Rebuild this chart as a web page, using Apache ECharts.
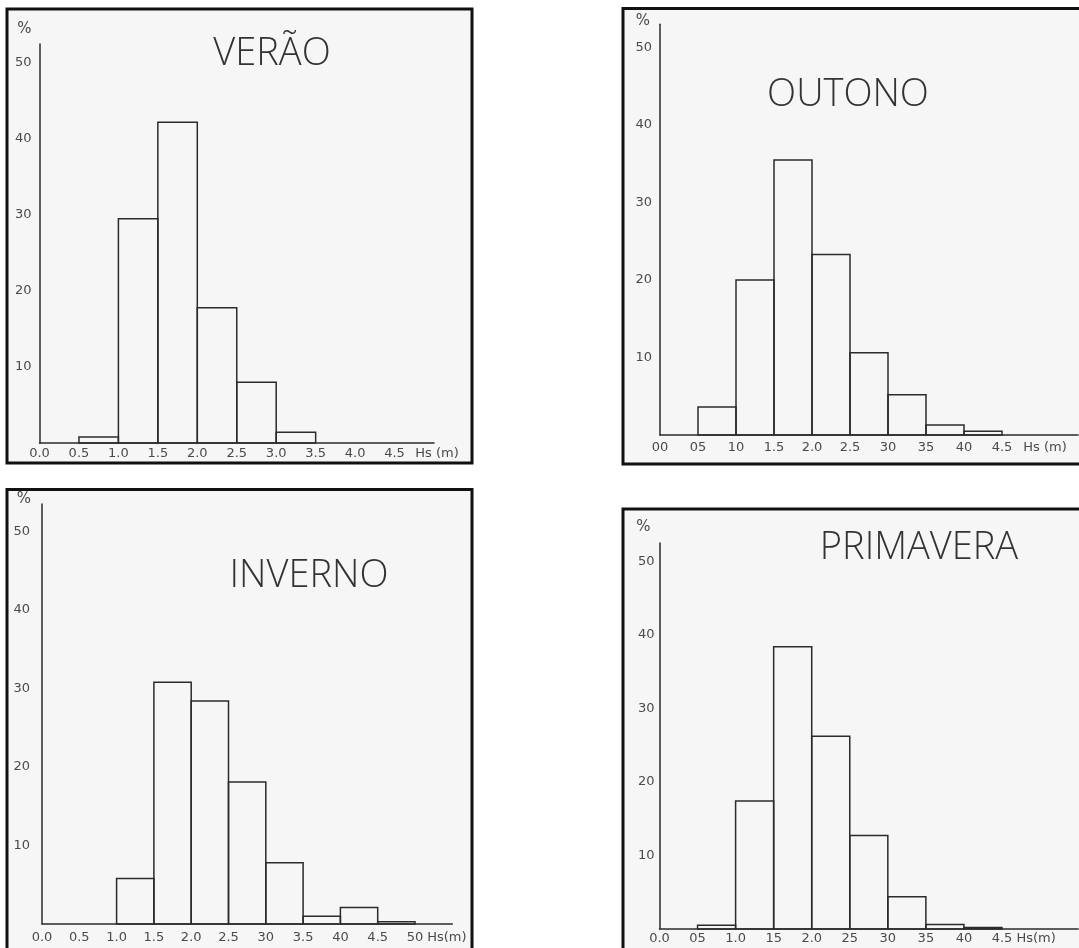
<!DOCTYPE html>
<html>
<head>
<meta charset="utf-8">
<script src="https://cdn.jsdelivr.net/npm/echarts@6/dist/echarts.min.js"></script>
<style>
html,body{margin:0;padding:0;background:#ffffff;}
#chart{width:1079px;height:948px;}
</style>
</head>
<body>
<div id="chart"></div>
<script>
// Bin edges of the Hs (m) classes (0.5 m wide)
const binEdges = [0.0, 0.5, 1.0, 1.5, 2.0, 2.5, 3.0, 3.5, 4.0, 4.5, 5.0];

// Frequency (%) per class
const veraoValues     = [0, 0.8, 29.5, 42.2, 17.8, 8.0, 1.4, 0, 0, 0];
const outonoValues    = [0, 3.6, 20.0, 35.5, 23.3, 10.6, 5.2, 1.3, 0.5, 0];
const invernoValues   = [0, 0, 5.8, 30.8, 28.4, 18.1, 7.8, 1.0, 2.1, 0.3];
const primaveraValues = [0, 0.5, 17.4, 38.4, 26.2, 12.7, 4.4, 0.6, 0.2, 0];

// Panel titles
const panelTitles = ['VERÃO', 'OUTONO', 'INVERNO', 'PRIMAVERA'];

// Tick labels as lettered on each panel
const veraoTicks     = ['0.0', '0.5', '1.0', '1.5', '2.0', '2.5', '3.0', '3.5', '4.0', '4.5'];
const outonoTicks    = ['00', '05', '10', '1.5', '2.0', '2.5', '30', '35', '40', '4.5'];
const invernoTicks   = ['0.0', '0.5', '1.0', '1.5', '2.0', '2.5', '30', '3.5', '40', '4.5', '50'];
const primaveraTicks = ['0.0', '05', '1.0', '15', '2.0', '25', '30', '35', '40', '4.5'];
const yTicks = ['10', '20', '30', '40', '50'];
const xName = ['Hs (m)', 'Hs (m)', 'Hs(m)', 'Hs(m)'];
const yName = '%';

const allValues = [veraoValues, outonoValues, invernoValues, primaveraValues];
const allTicks = [veraoTicks, outonoTicks, invernoTicks, primaveraTicks];

// Layout (pixels) per panel
const layout = [
  {grid:{left:39.5, top:44, width:394.5, height:399}, xMax:5.0, yMax:52.5,
   frame:{x:7, y:9, w:465, h:454}, title:[267, 30],
   xMargin:4, xNameGap:3, yMargin:8, pctGap:7, pctPad:8},
  {grid:{left:660, top:24.25, width:418, height:410.75}, xMax:5.5, yMax:53,
   frame:{x:623, y:8.5, w:460, h:455.5}, title:[843, 71],
   xMargin:6, xNameGap:-33, yMargin:8, pctGap:-4, pctPad:10},
  {grid:{left:42, top:504, width:410.3, height:420}, xMax:5.5, yMax:53.5,
   frame:{x:7, y:489.5, w:465, h:465}, title:[304, 552],
   xMargin:7, xNameGap:-6, yMargin:12, pctGap:-3, pctPad:11},
  {grid:{left:659.5, top:543, width:418.6, height:386}, xMax:5.5, yMax:52.5,
   frame:{x:623, y:509, w:460, h:445}, title:[914, 524],
   xMargin:3, xNameGap:-42, yMargin:5, pctGap:8, pctPad:9}
];

const FONT = "'DejaVu Sans', 'Liberation Sans', sans-serif";
const TITLE_FONT = "'Open Sans', 'DejaVu Sans', sans-serif";
const LBL = '#4a4a4a';
const INK = '#2b2b2b';

const grids = [], xAxes = [], yAxes = [], series = [], titles = [], graphics = [];

layout.forEach((L, i) => {
  grids.push(Object.assign({outerBoundsMode:'none', containLabel:false}, L.grid));
  const ticks = allTicks[i];
  xAxes.push({
    type:'value', gridIndex:i, min:0, max:L.xMax, interval:0.5,
    splitLine:{show:false}, axisTick:{show:false},
    axisLine:{show:true, onZero:false, lineStyle:{color:INK, width:1.5}},
    axisLabel:{show:true, margin:L.xMargin, color:LBL, fontFamily:FONT, fontSize:13,
      showMaxLabel:true, showMinLabel:true, hideOverlap:false,
      formatter:(v) => { const k = Math.round(v / 0.5); return (Math.abs(k*0.5 - v) < 1e-6 && ticks[k] !== undefined) ? ticks[k] : ''; }},
    name:xName[i], nameLocation:'end', nameGap:L.xNameGap,
    nameTextStyle:{color:LBL, fontFamily:FONT, fontSize:13, align:'center', verticalAlign:'top', padding:[L.xMargin,0,0,0]}
  });
  yAxes.push({
    type:'value', gridIndex:i, min:0, max:L.yMax, interval:10,
    splitLine:{show:false}, axisTick:{show:false},
    axisLine:{show:true, onZero:false, lineStyle:{color:INK, width:1.5}},
    axisLabel:{show:true, margin:L.yMargin, color:LBL, fontFamily:FONT, fontSize:13,
      formatter:(v) => { if (v % 10 !== 0 || v === 0) return ''; return yTicks[v/10 - 1] || ''; }},
    name:yName, nameLocation:'end', nameGap:L.pctGap,
    nameTextStyle:{color:LBL, fontFamily:FONT, fontSize:15, align:'right', padding:[0,L.pctPad,0,0]}
  });
  const data = [];
  allValues[i].forEach((v, k) => { if (v > 0) data.push([binEdges[k], binEdges[k+1], v]); });
  series.push({
    type:'custom', xAxisIndex:i, yAxisIndex:i, coordinateSystem:'cartesian2d',
    encode:{x:[0,1], y:2}, data:data, z:3,
    renderItem:(params, api) => {
      const a = api.coord([api.value(0), api.value(2)]);
      const b = api.coord([api.value(1), 0]);
      return {type:'rect', shape:{x:a[0], y:a[1], width:b[0]-a[0], height:b[1]-a[1]},
        style:{fill:'rgba(0,0,0,0)', stroke:INK, lineWidth:1.5}};
    }
  });
  titles.push({text:panelTitles[i], left:L.title[0], top:L.title[1], textAlign:'center',
    textStyle:{fontFamily:TITLE_FONT, fontWeight:300, fontSize:38, color:'#333'}});
  graphics.push({type:'rect', z:-10, shape:{x:L.frame.x, y:L.frame.y, width:L.frame.w, height:L.frame.h},
    style:{fill:'#f6f6f6', stroke:'#111', lineWidth:3}});
});

const chart = echarts.init(document.getElementById('chart'), null, {renderer:'canvas'});
chart.setOption({
  backgroundColor:'#ffffff',
  animation:false,
  title:titles,
  grid:grids, xAxis:xAxes, yAxis:yAxes, series:series,
  graphic:graphics
});
</script>
</body>
</html>
